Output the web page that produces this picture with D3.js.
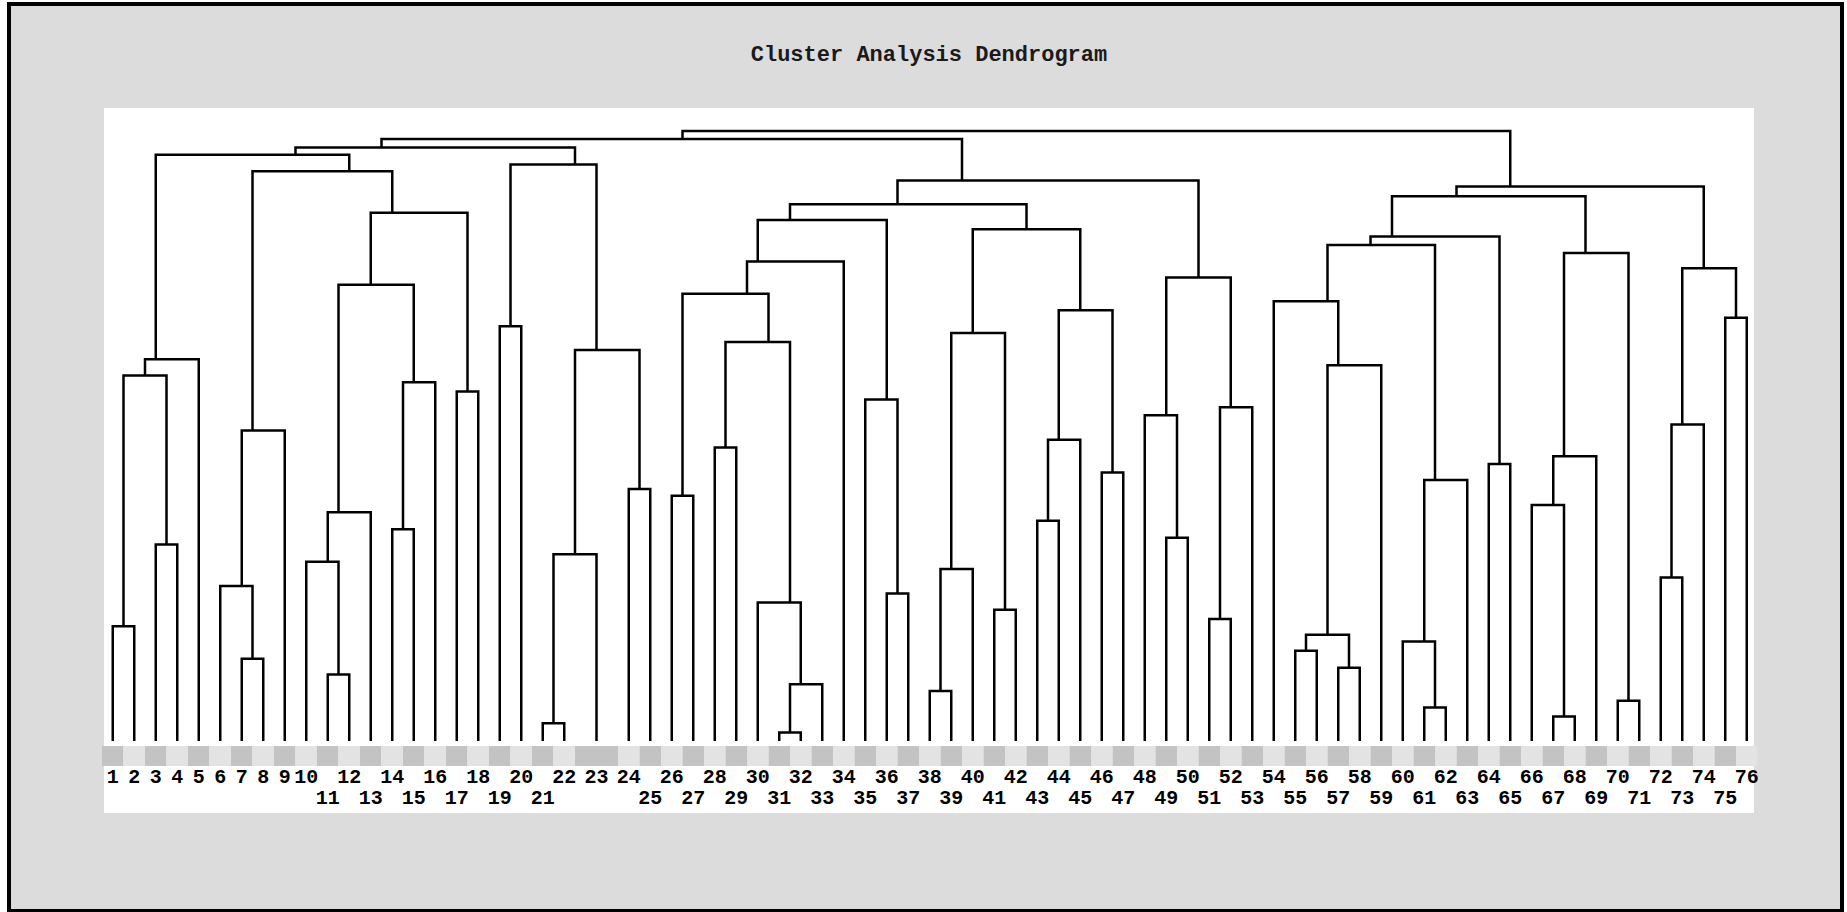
<!DOCTYPE html>
<html>
<head>
<meta charset="utf-8">
<script src="https://cdn.jsdelivr.net/npm/d3@7"></script>
<style>
  body { margin: 0; background: #fff; }
  svg { display: block; }
  .title { font-family: "Courier New", "Liberation Mono", monospace; font-weight: bold; font-size: 22px; fill: #1a1a1a; }
  .leaf-label { font-family: "Courier New", "Liberation Mono", monospace; font-weight: bold; font-size: 20px; fill: #000; }
</style>
</head>
<body>
<div id="chart"></div>
<script>
const svgWidth = 1847;
const svgHeight = 912;

// leaf labels, in dendrogram order
const labels = ["1","2","3","4","5","6","7","8","9","10","11","12","13","14","15","16","17","18","19",
  "20","21","22","23","24","25","26","27","28","29","30","31","32","33","34","35","36","37","38","39",
  "40","41","42","43","44","45","46","47","48","49","50","51","52","53","54","55","56","57","58","59",
  "60","61","62","63","64","65","66","67","68","69","70","71","72","73","74","75","76"];

// leaf 23 stands for two identical cases, so it takes two slots
const wideLeaves = ["23"];

// merges as [first leaf, last leaf, height]; height in distance units (root = 100)
const mergesA = [
  [1,2,18.8],[3,4,32.2],[1,4,59.9],[1,5,62.6],
  [7,8,13.5],[6,8,25.4],[6,9,50.9],
  [11,12,10.9],[10,12,29.4],[10,13,37.5],
  [14,15,34.7],[14,16,58.8],[10,16,74.8],
  [17,18,57.3],[10,18,86.6],[6,18,93.4],[1,18,96.1],
  [19,20,68.0],[21,22,2.9],[21,23,30.6],[24,25,41.3],[21,25,64.1],[19,25,94.5],[1,25,97.3]
];
const mergesB = [
  [26,27,40.2],[28,29,48.1],[31,32,1.4],[31,33,9.3],[30,33,22.7],[28,33,65.4],[26,33,73.3],[26,34,78.6],
  [36,37,24.2],[35,37,56.0],[26,37,85.4],
  [38,39,8.2],[38,40,28.2],[41,42,21.5],[38,42,66.9],
  [43,44,36.1],[43,45,49.4],[46,47,44.0],[43,47,70.6],[38,47,83.9],[26,47,88.0],
  [49,50,33.3],[48,50,53.4],[51,52,20.0],[51,53,54.7],[48,53,76.0],[26,53,91.9],[1,53,98.7]
];
const mergesC = [
  [55,56,14.8],[57,58,12.0],[55,58,17.4],[55,59,61.6],[54,59,72.1],
  [61,62,5.5],[60,62,16.3],[60,63,42.8],[54,63,81.3],[64,65,45.4],[54,65,82.7],
  [67,68,4.0],[66,68,38.7],[66,69,46.7],[70,71,6.6],[66,71,80.0],[54,71,89.3],
  [72,73,26.8],[72,74,51.9],[75,76,69.4],[72,76,77.5],[54,76,90.9]
];
const rootHeight = 100;

const merges = mergesA.concat(mergesB, mergesC, [[1, labels.length, rootHeight]]);

// slots per leaf
const leafSlots = labels.map(l => wideLeaves.includes(l) ? 2 : 1);
let acc = 0;
const leafStart = leafSlots.map(s => { const a = acc; acc += s; return a; });
const nSlots = acc;

const plot = { left: 104, right: 1754, top: 108, bottom: 813 };

const x = d3.scaleLinear()
  .domain([0.5, nSlots + 0.5])
  .range([102, 1757.5]);

const y = d3.scaleLinear()
  .domain([0, rootHeight])
  .range([741, 131]);

// build the tree from the ranges
const heightOf = new Map(merges.map(([lo, hi, h]) => [lo + "-" + hi, h]));

function build(lo, hi) {
  if (lo === hi) return { lo, hi, h: 0, label: labels[lo - 1] };
  for (let s = lo; s < hi; s++) {
    const okL = s === lo || heightOf.has(lo + "-" + s);
    const okR = s + 1 === hi || heightOf.has((s + 1) + "-" + hi);
    if (okL && okR) {
      return { lo, hi, h: heightOf.get(lo + "-" + hi), children: [build(lo, s), build(s + 1, hi)] };
    }
  }
  console.warn("no split for", lo, hi);
}

const root = d3.hierarchy(build(1, labels.length));

// x of a cluster = mean of all its slot centres
root.each(d => {
  const first = leafStart[d.data.lo - 1];
  const last = leafStart[d.data.hi - 1] + leafSlots[d.data.hi - 1] - 1;
  d.px = x((first + last) / 2 + 1);
  d.py = y(d.data.h);
});

const svg = d3.select("#chart")
  .append("svg")
  .attr("width", svgWidth)
  .attr("height", svgHeight);

// frame
svg.append("rect")
  .attr("x", 9).attr("y", 4)
  .attr("width", 1833).attr("height", 907)
  .attr("fill", "#dcdcdc")
  .attr("stroke", "#000")
  .attr("stroke-width", 4);

svg.append("rect")
  .attr("x", plot.left).attr("y", plot.top)
  .attr("width", plot.right - plot.left)
  .attr("height", plot.bottom - plot.top)
  .attr("fill", "#fff");

svg.append("text")
  .attr("class", "title")
  .attr("x", (plot.left + plot.right) / 2)
  .attr("y", 61)
  .attr("text-anchor", "middle")
  .text("Cluster Analysis Dendrogram");

// label band
const leaves = labels.map((l, i) => ({ label: l, start: leafStart[i], slots: leafSlots[i] }));
const slotW = x(1.5) - x(0.5);

svg.append("g")
  .selectAll("rect")
  .data(leaves)
  .enter()
  .append("rect")
  .attr("x", d => x(d.start + 0.5))
  .attr("y", 746)
  .attr("width", d => d.slots * slotW)
  .attr("height", 20)
  .attr("fill", d => (+d.label) % 2 === 1 ? "#c3c3c3" : "#e3e3e3");

// links
const linkGroup = svg.append("g")
  .attr("fill", "none")
  .attr("stroke", "#000")
  .attr("stroke-width", 2.5)
  .attr("stroke-linejoin", "miter");

linkGroup.selectAll("path")
  .data(root.descendants().filter(d => d.children))
  .enter()
  .append("path")
  .attr("d", d => {
    const [a, b] = d.children;
    return `M${a.px},${a.py}V${d.py}H${b.px}V${b.py}`;
  });

// leaf labels, two rows so they do not collide
const labelGroup = svg.append("g");
let lastTopRight = -Infinity;
leaves.forEach(d => {
  const cx = x(d.start + d.slots / 2 + 0.5);
  const t = labelGroup.append("text")
    .attr("class", "leaf-label")
    .attr("x", cx)
    .attr("text-anchor", "middle")
    .text(d.label);
  const w = t.node().getComputedTextLength();
  if (cx - w / 2 > lastTopRight + 1) {
    t.attr("y", 783);
    lastTopRight = cx + w / 2;
  } else {
    t.attr("y", 804);
  }
});
</script>
</body>
</html>
